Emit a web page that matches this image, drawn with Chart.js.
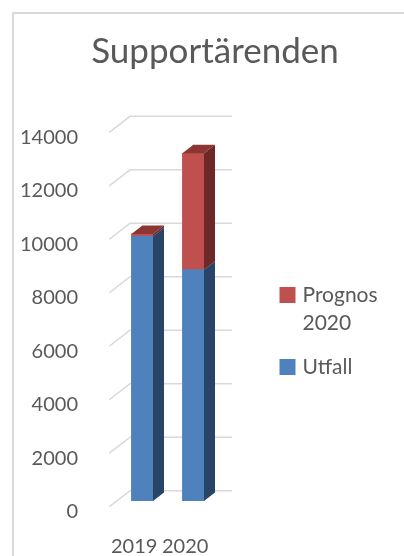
<!DOCTYPE html>
<html>
<head>
<meta charset="utf-8">
<title>Supportärenden</title>
<script src="https://cdn.jsdelivr.net/npm/chart.js@4.4.1/dist/chart.umd.min.js"></script>
<style>
  html, body { margin: 0; padding: 0; background: #fff; }
  #kutu { position: relative; width: 404px; height: 556px; }
</style>
</head>
<body>
<div id="kutu"><canvas id="arendenChart"></canvas></div>
<script>
/*VERİLER*/
var rubrik = 'Supportärenden';
var kategoriler = ['2019', '2020'];
var utfall = [9900, 8650];
var prognos = [80, 4350];
var yMin = 0;
var yMax = 14000;
var yAdim = 2000;
/*VERİLER*/

var yaziRengi = '#595959';
var yaziTipi = 'Lato, "Open Sans", sans-serif';

/*3D KUTU KODLARI*/
// bar depth, and where the floor's front edge / back wall sit relative to the bar plane
var derinlik = { barDx: 11, barDy: 8.5, onDx: -7.4, onDy: 5.7, arkaDx: 13.3, arkaDy: -10.3 };

var cerceve = {
  id: 'cerceve',
  beforeDraw: function (chart) {
    var ctx = chart.ctx;
    ctx.save();
    ctx.fillStyle = '#ffffff';
    ctx.fillRect(0, 0, chart.width, chart.height);
    ctx.strokeStyle = '#d9d9d9';
    ctx.lineWidth = 2;
    ctx.beginPath();
    ctx.moveTo(13, chart.height + 5);
    ctx.lineTo(13, 13);
    ctx.lineTo(chart.width + 5, 13);
    ctx.stroke();
    ctx.restore();
  }
};

var arkaDuvar = {
  id: 'arkaDuvar',
  beforeDatasetsDraw: function (chart) {
    var ctx = chart.ctx;
    var a = chart.chartArea;
    var y = chart.scales.y;
    ctx.save();
    ctx.strokeStyle = '#d9d9d9';
    ctx.lineWidth = 1.5;
    y.ticks.forEach(function (t) {
      var py = y.getPixelForValue(t.value);
      ctx.beginPath();
      ctx.moveTo(a.left + derinlik.onDx, py + derinlik.onDy);
      ctx.lineTo(a.left + derinlik.arkaDx, py + derinlik.arkaDy);
      ctx.lineTo(a.right + derinlik.arkaDx, py + derinlik.arkaDy);
      ctx.stroke();
    });
    ctx.restore();
  }
};

var kutuYuzleri = {
  id: 'kutuYuzleri',
  afterDatasetsDraw: function (chart) {
    var ctx = chart.ctx;
    var dx = derinlik.barDx, dy = derinlik.barDy;
    var veriler = chart.data.datasets;

    // which dataset is on top of each stack
    var enUst = [];
    for (var i = 0; i < kategoriler.length; i++) {
      enUst[i] = -1;
      for (var d = 0; d < veriler.length; d++) {
        if (veriler[d].data[i] > 0) enUst[i] = d;
      }
    }

    ctx.save();
    for (var d = 0; d < veriler.length; d++) {
      var meta = chart.getDatasetMeta(d);
      meta.data.forEach(function (bar, i) {
        var p = bar.getProps(['x', 'y', 'base', 'width'], true);
        var sol = p.x - p.width / 2;
        var sag = p.x + p.width / 2;
        var ust = Math.min(p.y, p.base);
        var alt = Math.max(p.y, p.base);

        ctx.fillStyle = veriler[d].yanRenk;
        ctx.beginPath();
        ctx.moveTo(sag, ust);
        ctx.lineTo(sag + dx, ust - dy);
        ctx.lineTo(sag + dx, alt - dy);
        ctx.lineTo(sag, alt);
        ctx.closePath();
        ctx.fill();

        if (enUst[i] == d) {
          ctx.fillStyle = veriler[d].ustRenk;
          ctx.beginPath();
          ctx.moveTo(sol, ust);
          ctx.lineTo(sol + dx, ust - dy);
          ctx.lineTo(sag + dx, ust - dy);
          ctx.lineTo(sag, ust);
          ctx.closePath();
          ctx.fill();
        }
      });
    }
    ctx.restore();
  }
};
/*3D KUTU KODLARI*/

/*BAŞLIK VE AÇIKLAMA KODLARI*/
var baslikVeAciklama = {
  id: 'baslikVeAciklama',
  afterDraw: function (chart) {
    var ctx = chart.ctx;
    ctx.save();
    ctx.fillStyle = yaziRengi;
    ctx.font = '35px ' + yaziTipi;
    ctx.textAlign = 'center';
    ctx.textBaseline = 'alphabetic';
    ctx.fillText(rubrik, 215, 63);

    // legend, top item = top of the stack
    ctx.font = '21px ' + yaziTipi;
    ctx.textAlign = 'left';
    ctx.textBaseline = 'middle';
    var satirY = 295;
    var veriler = chart.data.datasets.slice().reverse();
    veriler.forEach(function (ds) {
      ctx.fillStyle = ds.backgroundColor;
      ctx.fillRect(279.5, satirY - 8, 16, 16);
      ctx.fillStyle = yaziRengi;
      var kelimeler = ds.label.split(' ');
      var satir = '';
      var satirlar = [];
      for (var k = 0; k < kelimeler.length; k++) {
        var deneme = satir ? satir + ' ' + kelimeler[k] : kelimeler[k];
        if (satir && ctx.measureText(deneme).width > 90) {
          satirlar.push(satir);
          satir = kelimeler[k];
        } else {
          satir = deneme;
        }
      }
      satirlar.push(satir);
      satirlar.forEach(function (s, n) {
        ctx.fillText(s, 302.5, satirY + n * 28.5);
      });
      satirY += satirlar.length * 28.5 + 15;
    });
    ctx.restore();
  }
};
/*BAŞLIK VE AÇIKLAMA KODLARI*/

var ctx = document.getElementById('arendenChart');
var arendenChart = new Chart(ctx, {
  type: 'bar',
  data: {
    labels: kategoriler,
    datasets: [{
      label: 'Utfall',
      data: utfall,
      backgroundColor: '#4f81bd',
      yanRenk: '#284567',
      ustRenk: '#3a6799',
      barThickness: 21.6
    }, {
      label: 'Prognos 2020',
      data: prognos,
      backgroundColor: '#c0504d',
      yanRenk: '#6c2927',
      ustRenk: '#8c3634',
      barThickness: 21.6
    }]
  },
  options: {
    responsive: true,
    maintainAspectRatio: false,
    animation: false,
    events: [],
    layout: {
      padding: { top: 126.6, right: 185.3, bottom: 0, left: 0 }
    },
    plugins: {
      legend: { display: false },
      title: { display: false },
      tooltip: { enabled: false }
    },
    scales: {
      x: {
        stacked: true,
        grid: { display: false },
        border: { display: false },
        ticks: {
          color: yaziRengi,
          font: { family: yaziTipi, size: 20 },
          padding: 26,
          labelOffset: -8,
          maxRotation: 0
        },
        afterFit: function (scale) {
          scale.height = 55;
        }
      },
      y: {
        stacked: true,
        min: yMin,
        max: yMax,
        grid: { display: false },
        border: { display: false },
        ticks: {
          stepSize: yAdim,
          color: yaziRengi,
          font: { family: yaziTipi, size: 20 },
          padding: 30.7,
          labelOffset: 10.7,
          callback: function (deger) {
            return String(deger);
          }
        },
        afterFit: function (scale) {
          scale.width = 116.7;
        }
      }
    }
  },
  plugins: [cerceve, arkaDuvar, kutuYuzleri, baslikVeAciklama]
});
</script>
</body>
</html>
